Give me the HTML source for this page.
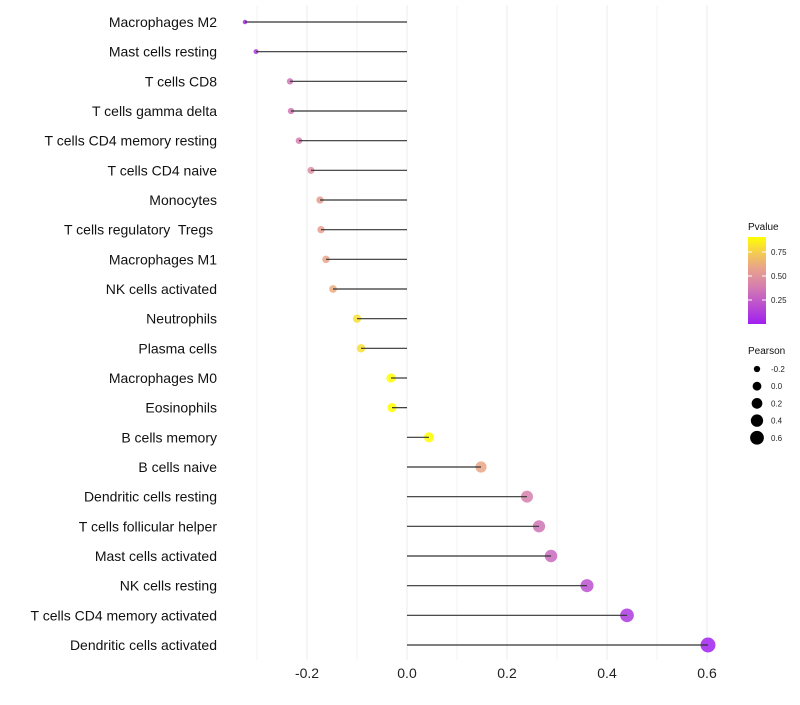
<!DOCTYPE html>
<html><head><meta charset="utf-8"><style>
body{margin:0;background:#fff;font-family:"Liberation Sans",sans-serif}
</style></head><body>
<svg id="chart" width="800" height="700" xmlns="http://www.w3.org/2000/svg"></svg>
<script>
const categories=["Macrophages M2","Mast cells resting","T cells CD8","T cells gamma delta","T cells CD4 memory resting","T cells CD4 naive","Monocytes","T cells regulatory  Tregs ","Macrophages M1","NK cells activated","Neutrophils","Plasma cells","Macrophages M0","Eosinophils","B cells memory","B cells naive","Dendritic cells resting","T cells follicular helper","Mast cells activated","NK cells resting","T cells CD4 memory activated","Dendritic cells activated"];
const pearson=[-0.324,-0.302,-0.234,-0.232,-0.216,-0.192,-0.174,-0.172,-0.162,-0.148,-0.1,-0.092,-0.032,-0.03,0.044,0.148,0.24,0.264,0.288,0.36,0.44,0.602];
const pvalue=[0.05,0.1,0.35,0.36,0.4,0.46,0.55,0.56,0.59,0.63,0.8,0.8,0.9,0.9,0.9,0.6,0.4,0.35,0.3,0.2,0.1,0.01];
const xTicks=[-0.2,0,0.2,0.4,0.6];
const xTickLabels=["-0.2","0.0","0.2","0.4","0.6"];
const legendP=[0.25,0.5,0.75];
const legendR=[-0.2,0,0.2,0.4,0.6];
const NS="http://www.w3.org/2000/svg";
const svg=document.getElementById('chart');
const X=v=>407+v*500;
const Y=i=>22+i*(623/21);
const R=v=>Math.sqrt(Math.max(2.2,10+55*(v+0.234)));
function mk(t,a,p){const e=document.createElementNS(NS,t);for(const k in a)e.setAttribute(k,a[k]);(p||svg).appendChild(e);return e;}
function lerp(a,b,t){return a.map((x,i)=>Math.round(x+(b[i]-x)*t));}
function col(p){const s=[[0,[160,32,240]],[0.45,[221,140,165]],[0.65,[238,175,125]],[0.9,[255,255,0]]];
 p=Math.max(0,Math.min(0.9,p));for(let i=0;i<s.length-1;i++){if(p<=s[i+1][0]){const c=lerp(s[i][1],s[i+1][1],(p-s[i][0])/(s[i+1][0]-s[i][0]));return`rgb(${c})`;}}return'rgb(255,255,0)';}
[-0.3,-0.2,-0.1,0,0.1,0.2,0.3,0.4,0.5,0.6].forEach(v=>{const g=mk('line',{x1:X(v),x2:X(v),y1:5,y2:660,stroke:'#ebebeb','stroke-width':Math.round(v*10)%2===0?1:0.6});
});
xTicks.forEach((v,i)=>{const t=mk('text',{x:X(v),y:678,'text-anchor':'middle','font-size':14,fill:'#222'});t.textContent=xTickLabels[i];
});
categories.forEach((c,i)=>{
 const d=mk('circle',{cx:X(pearson[i]),cy:Y(i),r:R(pearson[i]),fill:col(pvalue[i]),'fill-opacity':0.85});
 
 const l=mk('line',{x1:X(0),x2:X(pearson[i]),y1:Y(i),y2:Y(i),stroke:'#333','stroke-width':1.2});
 
 const t=mk('text',{x:217,y:Y(i)+5,'text-anchor':'end','font-size':14,fill:'#111','xml:space':'preserve'});t.style.whiteSpace='pre';t.textContent=c;
 
});
const lt=mk('text',{x:748,y:230,'font-size':10,fill:'#111'});lt.textContent='Pvalue';

const defs=mk('defs',{});const gr=mk('linearGradient',{id:'pg',x1:0,y1:1,x2:0,y2:0},defs);
[0,0.2,0.45,0.65,0.8,1].forEach(f=>mk('stop',{offset:f,'stop-color':col(f*0.906)},gr));
const bar=mk('rect',{x:748,y:237,width:18,height:87,fill:'url(#pg)'});

legendP.forEach(p=>{const y=324-p/0.25*24;
 mk('line',{x1:748,x2:752,y1:y,y2:y,stroke:'#fff'});mk('line',{x1:762,x2:766,y1:y,y2:y,stroke:'#fff'});
 const t=mk('text',{x:771,y:y+3,'font-size':8,fill:'#222'});t.textContent=p.toFixed(2);
 });
const st=mk('text',{x:748,y:354,'font-size':10,fill:'#111'});st.textContent='Pearson';

legendR.forEach((v,i)=>{const y=369+i*17.2;
 const c=mk('circle',{cx:757,cy:y,r:R(v)*0.92,fill:'#000'});
 
 const t=mk('text',{x:771,y:y+3,'font-size':8,fill:'#222'});t.textContent=v.toFixed(1);
 });
</script>
</body></html>
